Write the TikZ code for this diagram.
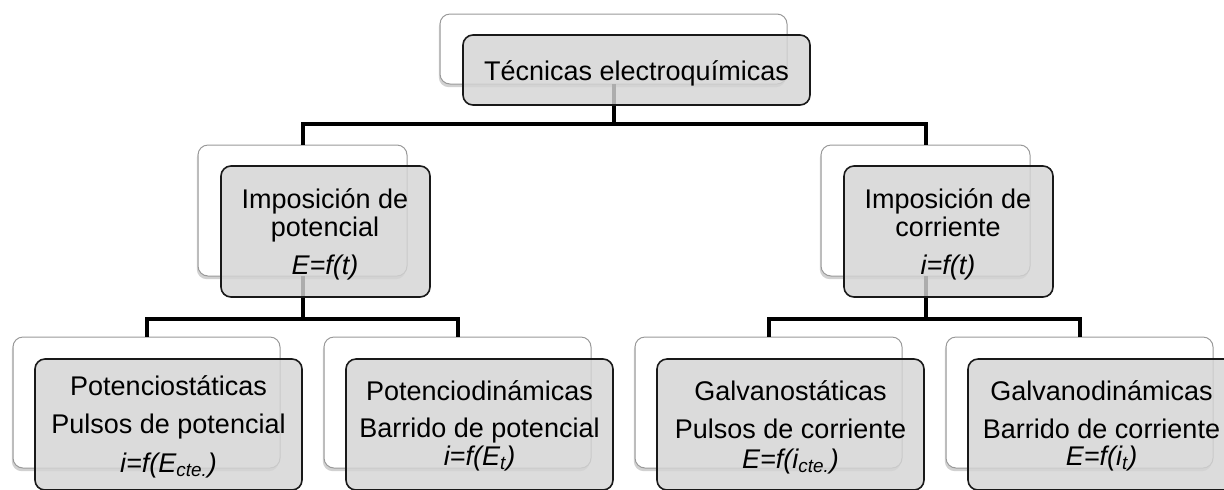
\documentclass[tikz,border=0pt]{standalone}
\usepackage{fontspec}
\setmainfont{Liberation Sans}
\usetikzlibrary{shadows}
\begin{document}
\begin{tikzpicture}[x=0.5pt,y=-0.5pt,
  backbox/.style={draw=black!40, fill=white, rounded corners=5pt, line width=0.5pt,
    drop shadow={shadow xshift=-0.6pt, shadow yshift=-1.6pt, opacity=0.3, fill=black!60},
    inner sep=0pt, outer sep=0pt, anchor=north west},
  frontbox/.style={draw=black!90, fill=black!17, fill opacity=0.82, rounded corners=5pt,
    line width=0.8pt, inner sep=0pt, outer sep=0pt, anchor=north west},
  bigbox/.style={minimum width=133.5pt, minimum height=65.5pt},
  midbox/.style={minimum width=104.5pt, minimum height=65.5pt},
  topbox/.style={minimum width=173.5pt, minimum height=35pt},
  txt/.style={anchor=base, inner sep=0pt, font=\fontsize{13.5pt}{15pt}\selectfont},
  conn/.style={line width=2pt, draw=black, line join=miter}]
\useasboundingbox (0,0) rectangle (1224,489);
\clip (0,0) rectangle (1224,489);
% back boxes
\node[backbox,topbox] (tb) at (440,14) {};
\node[backbox,midbox] (mlb) at (198,145) {};
\node[backbox,midbox] (mrb) at (821,145) {};
\node[backbox,bigbox] (b1b) at (13,337) {};
\node[backbox,bigbox] (b2b) at (324,337) {};
\node[backbox,bigbox] (b3b) at (635,337) {};
\node[backbox,bigbox] (b4b) at (946,337) {};
% junction levels
\coordinate (h1) at (0,124);
\coordinate (h2) at (0,319);
% connectors
\draw[conn] (tb.south) -- (tb.south |- h1) -| (mlb.north);
\draw[conn] (tb.south |- h1) -| (mrb.north);
\draw[conn] (mlb.south) -- (mlb.south |- h2) -| (b1b.north);
\draw[conn] (mlb.south |- h2) -| (b2b.north);
\draw[conn] (mrb.south) -- (mrb.south |- h2) -| (b3b.north);
\draw[conn] (mrb.south |- h2) -| (b4b.north);
% front boxes
\node[frontbox,topbox] (tf) at (463,35) {};
\node[frontbox,midbox] (mlf) at (221,166) {};
\node[frontbox,midbox] (mrf) at (844,166) {};
\node[frontbox,bigbox] (b1f) at (35,359) {};
\node[frontbox,bigbox] (b2f) at (346,359) {};
\node[frontbox,bigbox] (b3f) at (657,359) {};
\node[frontbox,bigbox] (b4f) at (968,359) {};
% texts
\node[txt] (t0) at (636.5,80) {Técnicas electroquímicas};
\node[txt] (t1a) at (325,208) {Imposición de};
\node[txt] (t1b) at (325,236) {potencial};
\node[txt] (t1c) at (325,274) {\textit{E=f(t)}};
\node[txt] (t2a) at (948,208) {Imposición de};
\node[txt] (t2b) at (948,236) {corriente};
\node[txt] (t2c) at (948,274) {\textit{i=f(t)}};
\node[txt] (t3a) at (168.5,395) {Potenciostáticas};
\node[txt] (t3b) at (168.5,433) {Pulsos de potencial};
\node[txt] (t3c) at (168.5,472) {\textit{i=f(E\textsubscript{cte.})}};
\node[txt] (t4a) at (479.5,400) {Potenciodinámicas};
\node[txt] (t4b) at (479.5,437) {Barrido de potencial};
\node[txt] (t4c) at (479.5,465) {\textit{i=f(E\textsubscript{t})}};
\node[txt] (t5a) at (790.5,400) {Galvanostáticas};
\node[txt] (t5b) at (790.5,438) {Pulsos de corriente};
\node[txt] (t5c) at (790.5,468) {\textit{E=f(i\textsubscript{cte.})}};
\node[txt] (t6a) at (1101.5,400) {Galvanodinámicas};
\node[txt] (t6b) at (1101.5,438) {Barrido de corriente};
\node[txt] (t6c) at (1101.5,465) {\textit{E=f(i\textsubscript{t})}};
\end{tikzpicture}
\end{document}
